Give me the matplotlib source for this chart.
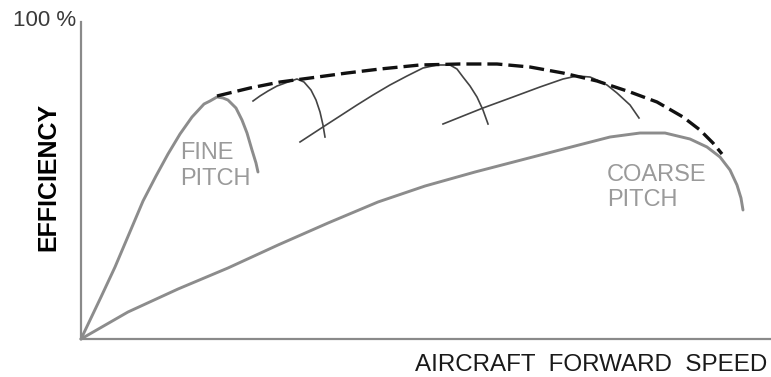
import matplotlib
matplotlib.use("Agg")
import matplotlib.pyplot as plt

plt.rcParams['font.family'] = ['Liberation Sans', 'DejaVu Sans']

# speed (% of axis) / efficiency (%)
fine_x = [0, 1.59, 2.90, 4.93, 6.96, 8.99, 10.87, 12.61, 14.35, 16.09, 17.83, 18.70, 19.71,
          20.58, 21.30, 22.46, 23.33, 24.06, 24.78, 25.36, 25.65]
fine_y = [0, 7.26, 13.25, 22.71, 33.12, 43.53, 51.42, 58.36, 64.67, 70.03, 74.13, 75.08, 76.34,
          76.03, 75.39, 72.87, 69.09, 64.98, 59.62, 55.52, 52.68]

coarse_x = [0, 6.81, 14.06, 21.30, 28.55, 35.80, 43.04, 49.86, 57.10, 64.35, 71.59, 76.67,
            81.01, 84.64, 88.26, 90.72, 92.61, 94.06, 95.07, 95.65, 95.94]
coarse_y = [0, 8.52, 15.77, 22.40, 29.65, 36.59, 43.22, 48.26, 52.68, 56.78, 60.88, 63.72,
            64.98, 64.98, 63.09, 60.57, 57.41, 53.31, 48.58, 44.48, 40.69]

env_x = [19.71, 24.49, 28.84, 33.19, 38.55, 43.33, 49.13, 54.93, 60.29, 65.07, 69.86,
         74.78, 79.57, 83.48, 87.25, 89.71, 91.59, 92.90]
env_y = [76.66, 79.18, 81.07, 82.33, 83.91, 85.17, 86.44, 86.75, 86.75, 85.80, 83.91,
         81.39, 77.92, 74.76, 70.03, 65.93, 61.83, 58.36]

mid1_x = [24.93, 25.94, 27.10, 28.41, 30.00, 31.30, 32.32, 33.33, 34.06, 34.64, 35.07, 35.36]
mid1_y = [75.08, 76.66, 78.23, 79.81, 81.07, 82.02, 81.07, 78.55, 75.39, 71.61, 67.51, 63.72]

mid2_x = [31.74, 35.07, 37.54, 40.00, 42.32, 44.78, 47.25, 49.57, 51.59, 53.48, 54.49,
          55.36, 56.38, 57.39, 58.26, 58.99]
mid2_y = [62.15, 66.88, 70.35, 73.82, 76.97, 80.13, 82.97, 85.49, 86.44, 86.44, 85.17,
          82.65, 79.81, 76.34, 72.24, 67.82]

mid3_x = [52.46, 55.36, 58.26, 62.61, 66.52, 69.86, 71.88, 73.77, 74.78, 76.23, 77.68,
          79.57, 80.87]
mid3_y = [67.82, 70.35, 72.87, 76.34, 79.50, 82.02, 82.97, 82.65, 81.70, 80.13, 77.60,
          73.82, 69.72]

W, H = 771, 377
fig = plt.figure(figsize=(W / 100, H / 100), dpi=100)
ax = fig.add_axes([81 / W, (H - 339) / H, (W - 81) / W, (339 - 22) / H])
ax.set_xlim(0, 100)
ax.set_ylim(0, 100)
ax.set_xticks([])
ax.set_yticks([])
for side in ('top', 'right'):
    ax.spines[side].set_visible(False)
for side in ('left', 'bottom'):
    ax.spines[side].set_color('#8a8a8a')
    ax.spines[side].set_linewidth(1.6)

grey = '#8c8c8c'
ax.plot(fine_x, fine_y, color=grey, lw=2.1, solid_capstyle='round', solid_joinstyle='round', clip_on=False)
ax.plot(coarse_x, coarse_y, color=grey, lw=2.1, solid_capstyle='round', solid_joinstyle='round', clip_on=False)
for mx, my in [(mid1_x, mid1_y), (mid2_x, mid2_y), (mid3_x, mid3_y)]:
    ax.plot(mx, my, color='#444444', lw=1.2, solid_joinstyle='round')
ax.plot(env_x, env_y, color='#111111', lw=2.4, dashes=(4.5, 1.8), zorder=5)

ax.text(14.35, 54.6, 'FINE\nPITCH', color='#9a9a9a', fontsize=17, ha='left', va='center',
        linespacing=1.2)
ax.text(76.2, 47.8, 'COARSE\nPITCH', color='#9a9a9a', fontsize=17, ha='left', va='center',
        linespacing=1.2)

fig.text(13 / W, 1 - 21 / H, '100 %', color='#3a3a3a', fontsize=16, ha='left', va='center')
fig.text(48 / W, 1 - 177 / H, 'EFFICIENCY', color='black', fontsize=18, fontweight='bold',
         rotation=90, ha='center', va='center')
fig.text(767 / W, 1 - 365 / H, 'AIRCRAFT  FORWARD  SPEED', color='#1a1a1a', fontsize=17.4,
         ha='right', va='center')

fig.savefig('out.png', dpi=100)
